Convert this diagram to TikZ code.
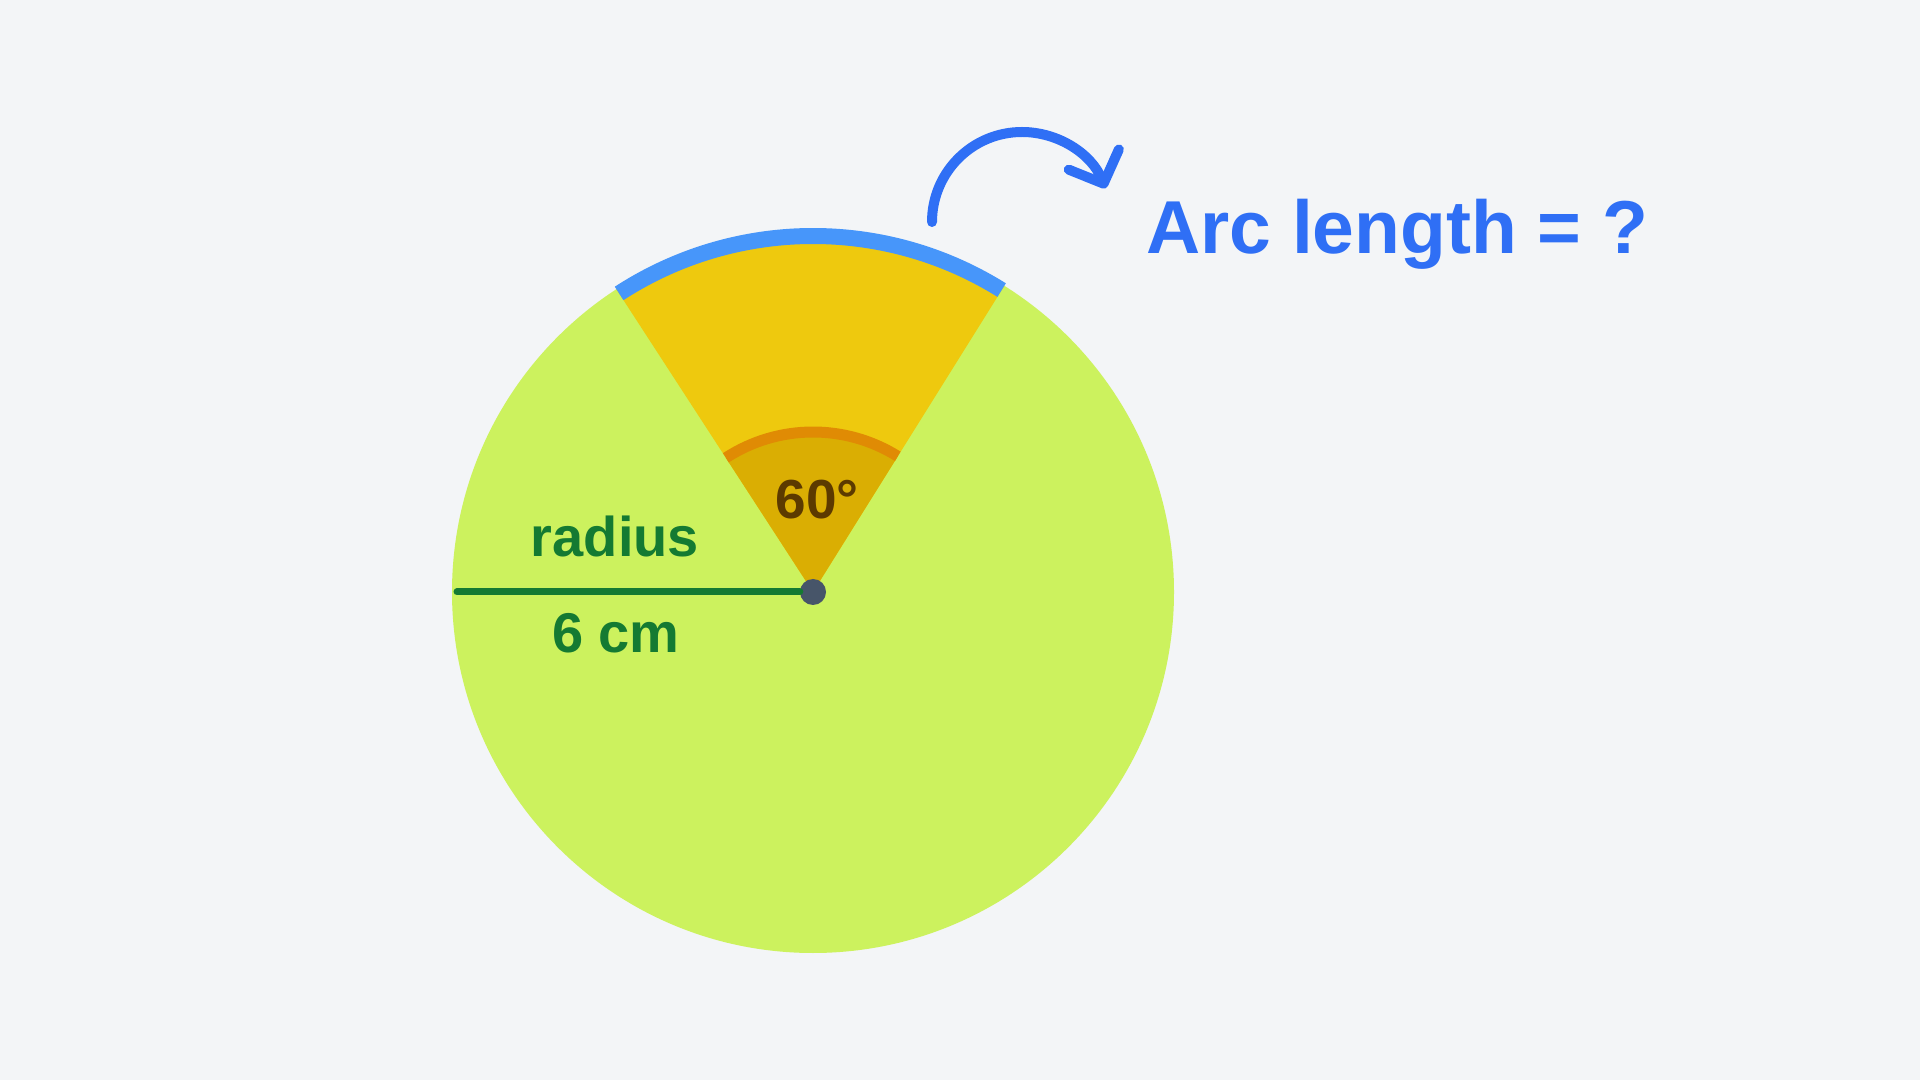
\documentclass[tikz,border=0pt]{standalone}
\usepackage{fontspec}
\setmainfont{Liberation Sans}
\usetikzlibrary{arrows.meta}
\definecolor{bgcol}{HTML}{F3F5F7}
\definecolor{disc}{HTML}{CCF25E}
\definecolor{sector}{HTML}{EEC90E}
\definecolor{angfill}{HTML}{DAAE03}
\definecolor{angline}{HTML}{E08B04}
\definecolor{arcblue}{HTML}{4796FA}
\definecolor{textblue}{HTML}{2F6FF5}
\definecolor{radgreen}{HTML}{147A32}
\definecolor{angtext}{HTML}{5C3A00}
\definecolor{dotcol}{HTML}{475569}
\tikzstyle{lbl} = [inner sep=0pt, anchor=base]
\tikzstyle{dot} = [circle, inner sep=0pt, minimum size=26pt, fill=dotcol]
\tikzstyle{radline} = [line width=7pt, line cap=round, draw=radgreen]
\tikzstyle{arrow} = [line width=10pt, line cap=round, draw=textblue, -{Straight Barb[length=26pt, width=54pt, line cap=round, line join=round]}]

\begin{document}
\begin{tikzpicture}[x=1pt, y=1pt]
        \fill [bgcol] (0,0) rectangle (1920,1080);
        \useasboundingbox (0,0) rectangle (1920,1080);
        \coordinate (O) at (813,488);
        % disc with the sector
        \fill [disc] (O) circle (361);
        \fill [sector] (O) -- ++(58:361) arc (58:123:361) -- cycle;
        \fill [angfill] (O) -- ++(58:160) arc (58:123:160) -- cycle;
        \draw [angline, line width=11pt] (O) ++(58:160) arc (58:123:160);
        \draw [arcblue, line width=16pt] (O) ++(58:356) arc (58:123:356);
        % radius
        \coordinate (redge) at (457,488);
        \node (centre) [dot] at (O) {};
        \draw [radline] (redge) -- (centre);
        \node (rad) [lbl, text=radgreen, font=\bfseries\fontsize{56}{66}\selectfont] at (615,523) {radius};
        \node (len) [lbl, text=radgreen, font=\bfseries\fontsize{56}{66}\selectfont] at (616,427) {6 cm};
        \node (ang) [lbl, text=angtext, font=\bfseries\fontsize{55}{64}\selectfont] at (817,561) {60°};
        % question
        \coordinate (arcstart) at (932,858);
        \draw [arrow] (arcstart) arc (180:22:90);
        \node (arclen) [lbl, anchor=base west, text=textblue, font=\bfseries\fontsize{75}{88}\selectfont] at (1146,826) {Arc length = ?};
    \end{tikzpicture}
\end{document}
